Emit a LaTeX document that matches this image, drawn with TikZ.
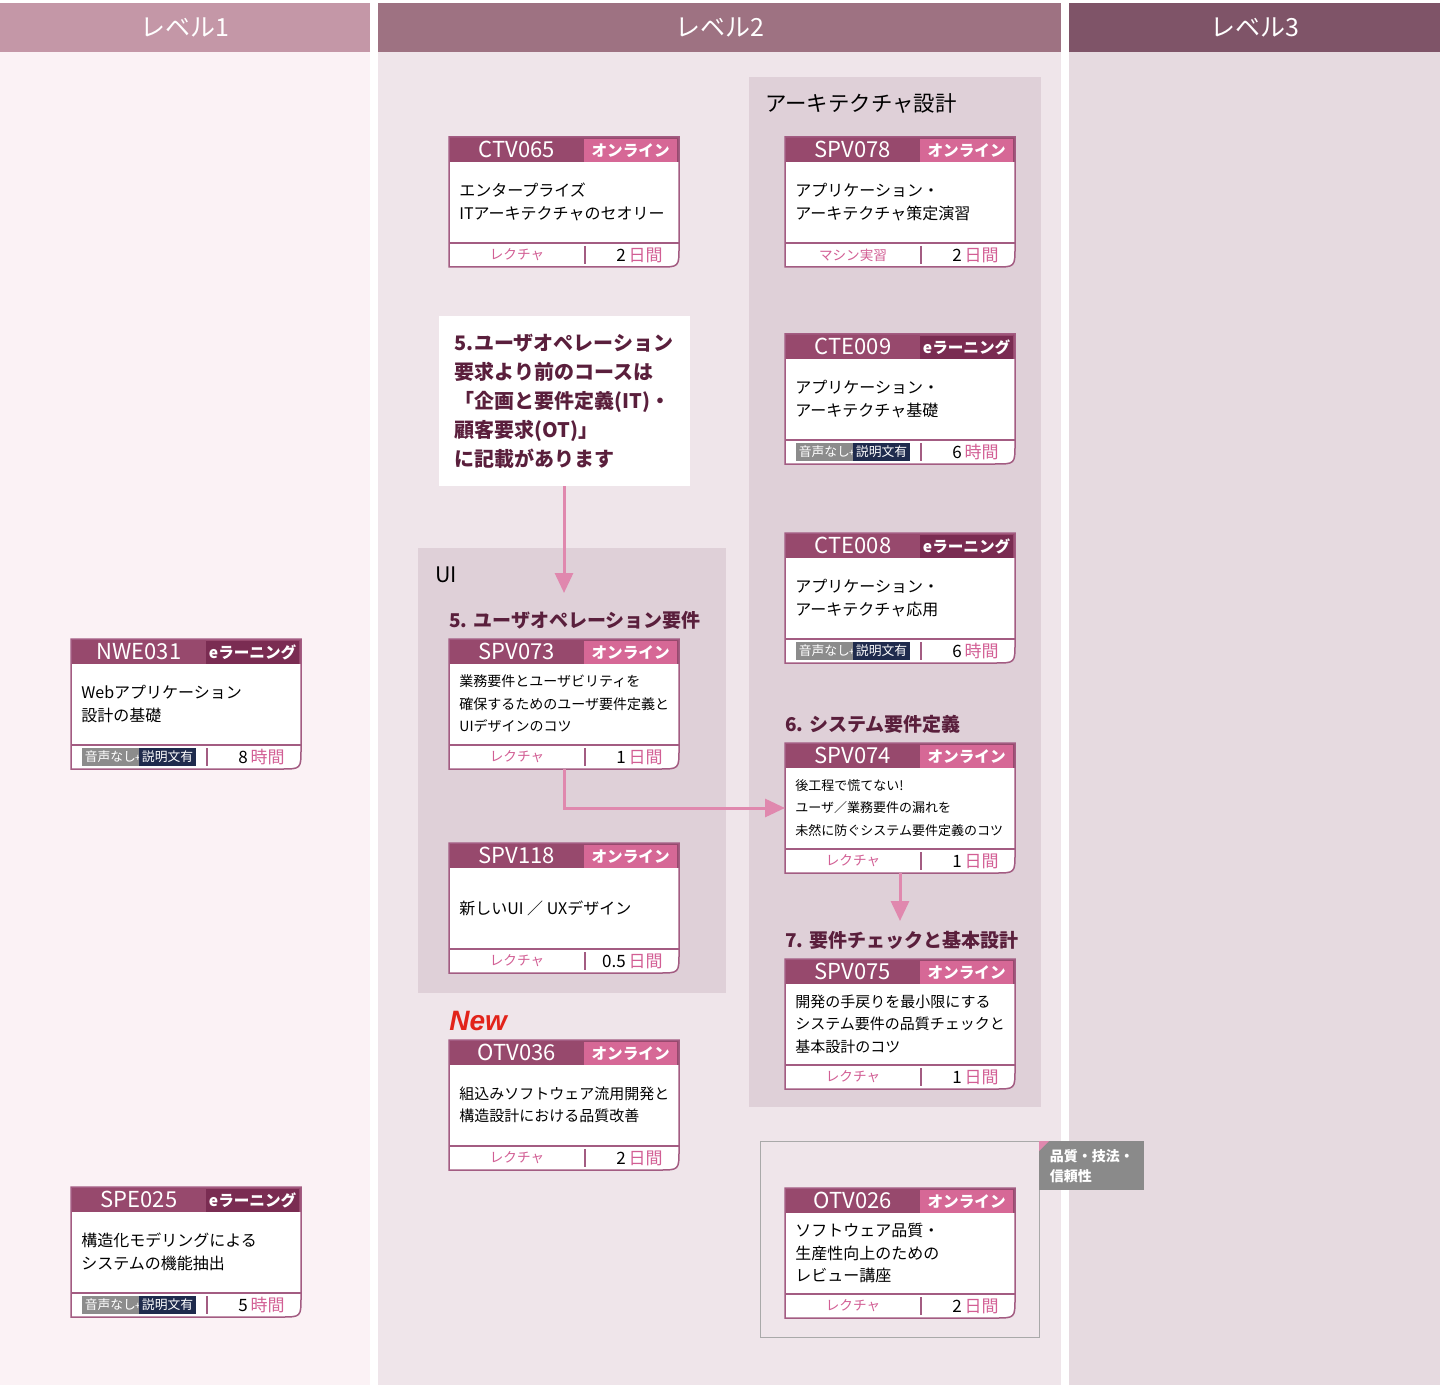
\documentclass[tikz,border=0pt]{standalone}
\usepackage{fontspec}
\setmainfont{Noto Sans CJK JP}
\newfontfamily\newsfont{Liberation Sans}
\usepackage{xcolor}
\usepackage{tikz}
\usetikzlibrary{arrows.meta,positioning,calc}
\definecolor{lvonehead}{HTML}{C497A7}
\definecolor{lvtwohead}{HTML}{9E7282}
\definecolor{lvthreehead}{HTML}{7F5468}
\definecolor{lvonebg}{HTML}{FBF2F5}
\definecolor{lvtwobg}{HTML}{EFE5EA}
\definecolor{lvthreebg}{HTML}{E6DAE0}
\definecolor{groupbg}{HTML}{DFD0D8}
\definecolor{cardhead}{HTML}{97496D}
\definecolor{cardedge}{HTML}{A35C82}
\definecolor{tagpink}{HTML}{D66896}
\definecolor{tagdark}{HTML}{7A2C52}
\definecolor{cardpink}{HTML}{D25E94}
\definecolor{titlemaroon}{HTML}{5A1F3C}
\definecolor{arrowpink}{HTML}{E088AE}
\definecolor{mutegray}{HTML}{8C8C8C}
\definecolor{subnavy}{HTML}{1F2B4D}
\definecolor{qualgray}{HTML}{8A8A8A}
\definecolor{qualedge}{HTML}{A9A9A9}
\definecolor{newred}{HTML}{E2231A}
\tikzset{
  levelhead/.style={minimum height=24.5pt, inner sep=0pt, text=white, font=\fontsize{12.5}{12.5}\selectfont},
  grouplabel/.style={anchor=west, inner sep=0pt, text=black, font=\fontsize{10.7}{10.7}\selectfont},
  notebox/.style={fill=white, minimum width=125.5pt, minimum height=85pt, align=left, text=titlemaroon, font=\bfseries\fontsize{10}{14.5}\selectfont},
  sectitle/.style={inner sep=0pt, text=titlemaroon, font=\bfseries\fontsize{9.5}{9.5}\selectfont},
  newmark/.style={inner sep=0pt, text=newred, font=\newsfont\bfseries\itshape\fontsize{14}{14}\selectfont},
  cardframe/.style={rectangle, minimum width=115pt, minimum height=65pt, inner sep=0pt, outer sep=0pt},
  cardline/.style={draw=cardedge, line width=0.75pt},
  codetext/.style={inner sep=0pt, text=white, font=\fontsize{11}{11}\selectfont},
  tagbox/.style={minimum width=46.5pt, minimum height=11.75pt, inner sep=0pt, text=white, font=\bfseries\fontsize{7.8}{7.8}\selectfont},
  online/.style={tagbox, fill=tagpink, node contents={オンライン}},
  elearn/.style={tagbox, fill=tagdark, node contents={eラーニング}},
  bodytext/.style={anchor=west, align=left, inner sep=0pt, text=black},
  kindtext/.style={inner sep=0pt, text=cardpink, font=\fontsize{6.8}{6.8}\selectfont},
  timetext/.style={anchor=east, inner sep=0pt, font=\fontsize{8.5}{8.5}\selectfont},
  qualframe/.style={draw=qualedge, line width=0.5pt, fill=lvtwobg, minimum width=139.5pt, minimum height=98pt, inner sep=0pt, outer sep=0pt},
  qualtag/.style={fill=qualgray, minimum width=52.5pt, minimum height=24.5pt, inner sep=0pt, align=left, text=white, font=\bfseries\fontsize{7}{10}\selectfont},
  flowarrow/.style={-{Triangle[width=9pt,length=10pt]}, line width=1.5pt, draw=arrowpink}
}
\newcommand{\dayunit}{\textcolor{cardpink}{日間}}
\newcommand{\hourunit}{\textcolor{cardpink}{時間}}
\newcommand{\mutebadge}{{\fontsize{6.4}{6.4}\selectfont\setlength{\fboxsep}{1.6pt}%
  \colorbox{mutegray}{\textcolor{white}{音声なし}}\kern-2pt{\color{white}\fontsize{5}{5}\selectfont+}\kern-1pt%
  \colorbox{subnavy}{\textcolor{white}{説明文有}}}}
% name, top left, code, tag, body size, body, kind, time
\newcommand{\coursecard}[8]{%
  \node[cardframe, anchor=north west] (#1) at (#2) {};
  \fill[white] (#1.north west) -- (#1.north east) -- ($(#1.south east)+(0,-20)$)
    .. controls (#1.south east) .. ($(#1.south east)+(-20,0)$) -- (#1.south west) -- cycle;
  \fill[cardhead] (#1.north west) rectangle ($(#1.north east)+(0,25)$);
  \draw[cardline] (#1.north west) -- (#1.north east) -- ($(#1.south east)+(0,-20)$)
    .. controls (#1.south east) .. ($(#1.south east)+(-20,0)$) -- (#1.south west) -- cycle;
  \draw[cardline] ($(#1.south west)+(0,-24)$) -- ($(#1.south east)+(0,-24)$);
  \draw[cardline] ($(#1.south west)+(136,-21)$) -- ($(#1.south west)+(136,-3)$);
  \node[codetext] (#1-code) at ($(#1.north west)+(68,12.5)$) {#3};
  \node (#1-tag) at ($(#1.north east)+(-1.5,1.5)$) [anchor=north east, #4];
  \node[bodytext, font=\fontsize{#5}{11.25}\selectfont] (#1-text) at ($(#1.west)+(10,0)$) {#6};
  \node[kindtext] (#1-kind) at ($(#1.south west)+(68,-12)$) {#7};
  \node[timetext] (#1-time) at ($(#1.south west)+(214,-12)$) {#8};
}

\begin{document}
\begin{tikzpicture}[x=0.5pt, y=-0.5pt]
  \useasboundingbox (0,0) rectangle (1440,1385);
  \fill[white] (0,0) rectangle (1440,1385);

  % columns
  \fill[lvonebg] (0,52) rectangle (370,1385);
  \fill[lvtwobg] (378,52) rectangle (1061,1385);
  \fill[lvthreebg] (1069,52) rectangle (1440,1385);
  \node[levelhead, fill=lvonehead, minimum width=185pt] (lv1) at (185,27.5) {レベル1};
  \node[levelhead, fill=lvtwohead, minimum width=341.5pt] (lv2) at (719.5,27.5) {レベル2};
  \node[levelhead, fill=lvthreehead, minimum width=185.5pt] (lv3) at (1254.5,27.5) {レベル3};

  % groups
  \fill[groupbg] (749,77) rectangle (1041,1107);
  \node[grouplabel] (archlabel) at (765,104) {アーキテクチャ設計};
  \fill[groupbg] (418,548) rectangle (726,993);
  \node[grouplabel] (uilabel) at (435,575) {UI};

  \node[notebox] (note) at (564,401) {5.ユーザオペレーション\\要求より前のコースは\\「企画と要件定義(IT)・\\顧客要求(OT)」\\に記載があります};

  \node[qualframe] (qualgrp) at (899.5,1239) {};
  \node[qualtag, anchor=north west] (qualtag) at (qualgrp.north east) {品質・技法・\\信頼性};
  \fill[arrowpink] (qualtag.north west) -- ++(10,0) -- ++(-10,10) -- cycle;

  % level 1
  \coursecard{nwe031}{71,639}{NWE031}{elearn}{8}{Webアプリケーション\\設計の基礎}{\mutebadge}{8\,\hourunit}
  \coursecard{spe025}{71,1187}{SPE025}{elearn}{8}{構造化モデリングによる\\システムの機能抽出}{\mutebadge}{5\,\hourunit}

  % level 2
  \coursecard{ctv065}{449,137}{CTV065}{online}{8}{エンタープライズ\\ITアーキテクチャのセオリー}{レクチャ}{2\,\dayunit}
  \coursecard{spv073}{449,639}{SPV073}{online}{7}{業務要件とユーザビリティを\\確保するためのユーザ要件定義と\\UIデザインのコツ}{レクチャ}{1\,\dayunit}
  \coursecard{spv118}{449,843}{SPV118}{online}{8}{新しいUI ／ UXデザイン}{レクチャ}{0.5\,\dayunit}
  \coursecard{otv036}{449,1040}{OTV036}{online}{7.5}{組込みソフトウェア流用開発と\\構造設計における品質改善}{レクチャ}{2\,\dayunit}
  \coursecard{spv078}{785,137}{SPV078}{online}{8}{アプリケーション・\\アーキテクチャ策定演習}{マシン実習}{2\,\dayunit}
  \coursecard{cte009}{785,334}{CTE009}{elearn}{8}{アプリケーション・\\アーキテクチャ基礎}{\mutebadge}{6\,\hourunit}
  \coursecard{cte008}{785,533}{CTE008}{elearn}{8}{アプリケーション・\\アーキテクチャ応用}{\mutebadge}{6\,\hourunit}
  \coursecard{spv074}{785,743}{SPV074}{online}{6.5}{後工程で慌てない!\\ユーザ／業務要件の漏れを\\未然に防ぐシステム要件定義のコツ}{レクチャ}{1\,\dayunit}
  \coursecard{spv075}{785,959}{SPV075}{online}{7.5}{開発の手戻りを最小限にする\\システム要件の品質チェックと\\基本設計のコツ}{レクチャ}{1\,\dayunit}
  \coursecard{otv026}{785,1188}{OTV026}{online}{8}{ソフトウェア品質・\\生産性向上のための\\レビュー講座}{レクチャ}{2\,\dayunit}

  \node[sectitle, above=4.5pt of spv073.north west, anchor=south west] (uireq) {5. ユーザオペレーション要件};
  \node[sectitle, above=4.5pt of spv074.north west, anchor=south west] (sysreq) {6. システム要件定義};
  \node[sectitle, above=4.5pt of spv075.north west, anchor=south west] (basicdesign) {7. 要件チェックと基本設計};
  \node[newmark, above=4.5pt of otv036.north west, anchor=south west] (newtag) {New};

  \coordinate (uientry) at (564,593);
  \coordinate (chkentry) at (900,921);
  \draw[flowarrow] (note.south) -- (uientry);
  \draw[flowarrow] (spv073.south) |- (spv074.west);
  \draw[flowarrow] (spv074.south) -- (chkentry);
\end{tikzpicture}
\end{document}
